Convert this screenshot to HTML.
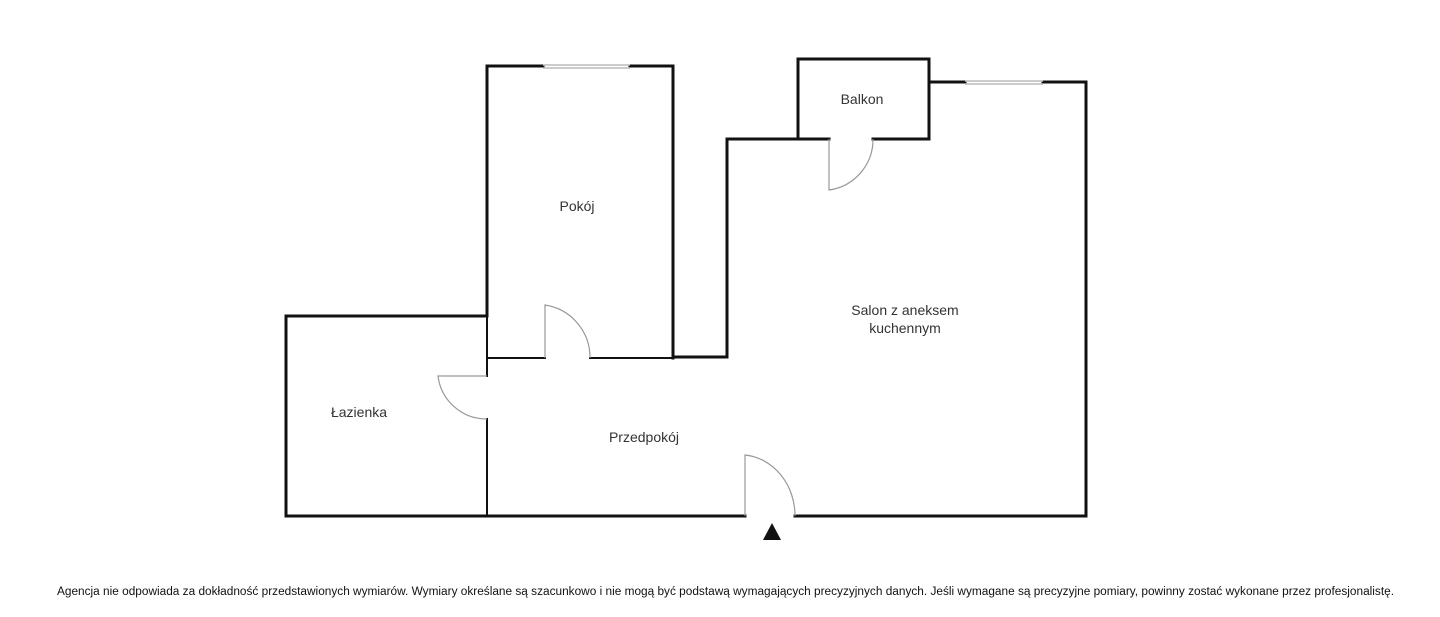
<!DOCTYPE html>
<html><head><meta charset="utf-8"><style>
html,body{margin:0;padding:0;background:#fff;width:1440px;height:617px;overflow:hidden}
text{font-family:"Liberation Sans",sans-serif;fill:#333}
</style></head><body>
<svg width="1440" height="617" viewBox="0 0 1440 617" xmlns="http://www.w3.org/2000/svg">
<g fill="none" stroke="#111" stroke-linecap="square">
  <path d="M487 316 V66 H543 M630 66 H673 V358" stroke-width="3"/>
  <path d="M673 357 H727 V139 H798 V59 H929 V139 H873 M829 139 H798" stroke-width="3"/>
  <path d="M929 82 H965 M1043 82 H1086 V516 H795 M745 516 H286 V316 H487" stroke-width="3"/>
  <path d="M487 316 V376 M487 419 V516 M487 358 H545 M590 358 H673" stroke-width="2"/>
</g>
<g stroke="#bbb" stroke-width="1.5">
  <line x1="543" y1="65" x2="630" y2="65"/><line x1="543" y1="68" x2="630" y2="68"/>
  <line x1="965" y1="81" x2="1043" y2="81"/><line x1="965" y1="84" x2="1043" y2="84"/>
</g>
<g fill="none" stroke="#999" stroke-width="1.2">
  <path d="M545 358 V305 A53 53 0 0 1 590 358"/>
  <path d="M487 376 H438 A49 49 0 0 0 487 419"/>
  <path d="M829 139 V190 A51 51 0 0 0 873 139"/>
  <path d="M745 516 V455 A55 61 0 0 1 795 516"/>
</g>
<polygon points="763,540 781,540 772,523" fill="#111"/>
<text x="577" y="211" font-size="14" text-anchor="middle">Pokój</text>
<text x="862" y="104" font-size="14" text-anchor="middle">Balkon</text>
<text x="905" y="315" font-size="14" text-anchor="middle">Salon z aneksem</text>
<text x="905" y="333" font-size="14" text-anchor="middle">kuchennym</text>
<text x="359" y="417" font-size="14" text-anchor="middle">Łazienka</text>
<text x="644" y="442" font-size="14" text-anchor="middle">Przedpokój</text>
<text x="57" y="595" font-size="11.5" textLength="1337" lengthAdjust="spacingAndGlyphs" style="fill:#111">Agencja nie odpowiada za dokładność przedstawionych wymiarów. Wymiary określane są szacunkowo i nie mogą być podstawą wymagających precyzyjnych danych. Jeśli wymagane są precyzyjne pomiary, powinny zostać wykonane przez profesjonalistę.</text>
</svg>
</body></html>
